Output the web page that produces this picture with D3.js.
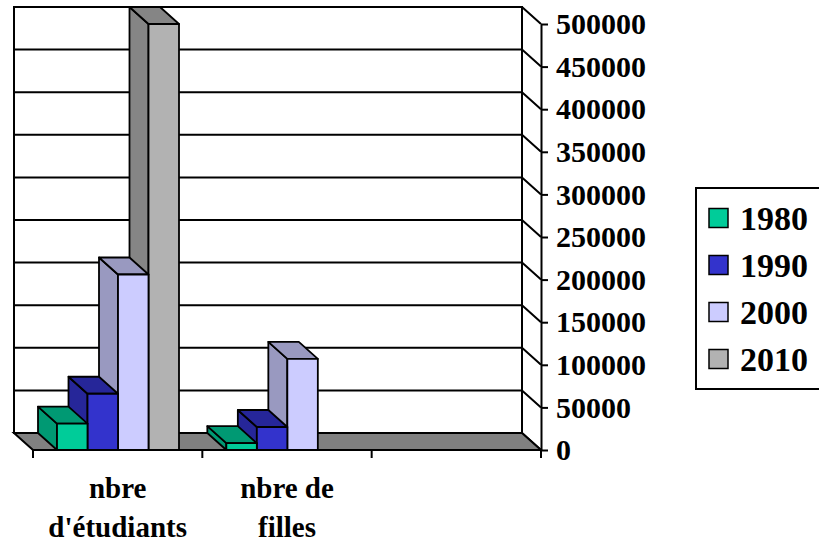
<!DOCTYPE html>
<html>
<head>
<meta charset="utf-8">
<script src="https://cdn.jsdelivr.net/npm/d3@7"></script>
<style>
  html, body { margin: 0; padding: 0; background: #fff; }
  svg { display: block; }
</style>
</head>
<body>
<svg id="chart" width="819" height="548"></svg>
<script>
// Categories along the floor (third slot is left empty)
const categories = ["nbre\nd'étudiants", "nbre de\nfilles", ""];
// Series (years) and their values per category
const years = ["1980", "1990", "2000", "2010"];
const v1980 = [31000, 8000, null];
const v1990 = [66000, 27000, null];
const v2000 = [206000, 107000, null];
const v2010 = [500000, null, null];
const valueTicks = [0, 50000, 100000, 150000, 200000, 250000, 300000, 350000, 400000, 450000, 500000];

const seriesValues = [v1980, v1990, v2000, v2010];
const frontColors = ["#00CC99", "#3333CC", "#CCCCFF", "#B2B2B2"];
const sideColors  = ["#009973", "#262699", "#9999C0", "#858585"];

const FONT = "'Liberation Serif', 'Times New Roman', Times, serif";

const svg = d3.select("#chart");

// depth offset from the front plane to the back wall
const dx = -19, dy = -17;

const x = d3.scaleBand().domain(d3.range(categories.length)).range([33, 541]);
const xs = d3.scaleBand().domain(years).range([24, 146]);
const y = d3.scaleLinear().domain([0, 500000]).range([450, 24]);

const left = x.range()[0], right = x.range()[1];
const poly = pts => pts.map(p => p.join(",")).join(" ");

// back wall
svg.append("rect")
  .attr("x", left + dx).attr("y", y(500000) + dy)
  .attr("width", right - left).attr("height", y(0) - y(500000))
  .attr("fill", "#fff").attr("stroke", "#000").attr("stroke-width", 2);

// gridlines on back wall and side wall
const grid = svg.append("g").attr("stroke", "#000").attr("stroke-width", 2).attr("fill", "none");
valueTicks.forEach(v => {
  grid.append("polyline").attr("points", poly([
    [left + dx, y(v) + dy], [right + dx, y(v) + dy], [right, y(v)]
  ]));
});

// floor
svg.append("polygon")
  .attr("points", poly([[left + dx, y(0) + dy], [right + dx, y(0) + dy], [right, y(0)], [left, y(0)]]))
  .attr("fill", "#808080").attr("stroke", "#000").attr("stroke-width", 2);

// 3D columns: draw right-to-left within a category so left neighbours cover hidden side faces
const bars = svg.append("g").attr("stroke", "#000").attr("stroke-width", 1.8).attr("stroke-linejoin", "round");
categories.forEach((c, ci) => {
  for (let si = years.length - 1; si >= 0; si--) {
    const v = seriesValues[si][ci];
    if (v == null) continue;
    const x0 = x(ci) + xs(years[si]);
    const x1 = x0 + xs.bandwidth();
    const y0 = y(0), y1 = y(v);
    const g = bars.append("g");
    g.append("polygon")
      .attr("points", poly([[x0, y1], [x0 + dx, y1 + dy], [x0 + dx, y0 + dy], [x0, y0]]))
      .attr("fill", sideColors[si]);
    g.append("polygon")
      .attr("points", poly([[x0, y1], [x1, y1], [x1 + dx, y1 + dy], [x0 + dx, y1 + dy]]))
      .attr("fill", sideColors[si]);
    g.append("rect")
      .attr("x", x0).attr("y", y1).attr("width", x1 - x0).attr("height", y0 - y1)
      .attr("fill", frontColors[si]);
  }
});

// category axis line and ticks at band boundaries
const catAxis = svg.append("g").attr("stroke", "#000").attr("stroke-width", 2);
catAxis.append("line").attr("x1", left).attr("x2", right).attr("y1", y(0)).attr("y2", y(0));
categories.map((c, i) => x(i)).concat([right]).forEach(px => {
  catAxis.append("line").attr("x1", px).attr("x2", px).attr("y1", y(0)).attr("y2", y(0) + 8);
});

// category labels
categories.forEach((c, i) => {
  if (!c) return;
  const cx = x(i) + x.bandwidth() / 2;
  const t = svg.append("text")
    .attr("x", cx).attr("y", 498)
    .attr("text-anchor", "middle")
    .attr("font-family", FONT).attr("font-weight", "bold").attr("font-size", 29)
    .attr("fill", "#000");
  c.split("\n").forEach((line, li) => {
    t.append("tspan").attr("x", cx).attr("dy", li === 0 ? 0 : 39).text(line);
  });
});

// value axis on the right
const yAxis = d3.axisRight(y).tickValues(valueTicks).tickSize(7).tickSizeOuter(0).tickPadding(8)
  .tickFormat(d3.format("d"));
const ya = svg.append("g").attr("transform", `translate(${right},0)`).call(yAxis)
  .attr("font-family", FONT).attr("font-size", 30).attr("font-weight", "bold");
ya.select(".domain").attr("stroke", "#000").attr("stroke-width", 2);
ya.selectAll(".tick line").attr("stroke", "#000").attr("stroke-width", 2);
ya.selectAll(".tick text").attr("fill", "#000");

// legend
const legend = svg.append("g");
legend.append("rect")
  .attr("x", 696).attr("y", 188).attr("width", 140).attr("height", 201)
  .attr("fill", "#fff").attr("stroke", "#000").attr("stroke-width", 2);
years.forEach((yr, i) => {
  const cy = 218 + i * 47;
  legend.append("rect")
    .attr("x", 709).attr("y", cy - 9.5).attr("width", 19).attr("height", 19)
    .attr("fill", frontColors[i]).attr("stroke", "#000").attr("stroke-width", 1.5);
  legend.append("text")
    .attr("x", 740).attr("y", cy + 11.5)
    .attr("font-family", FONT).attr("font-weight", "bold").attr("font-size", 34)
    .attr("fill", "#000").text(yr);
});
</script>
</body>
</html>
